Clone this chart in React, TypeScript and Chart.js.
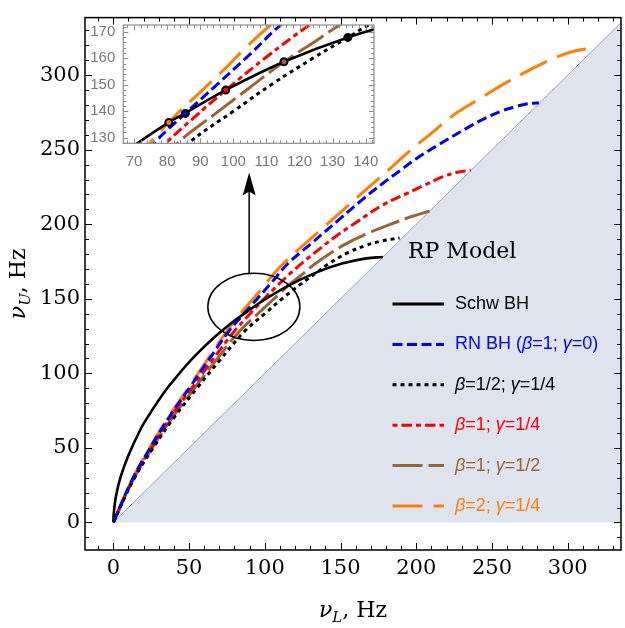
import React, { useEffect, useRef } from 'react';
import { Chart, registerables } from 'chart.js';

Chart.register(...registerables);

// Frequency pairs along each curve: lower QPO ν_L (Hz) and upper QPO ν_U (Hz)
const schwL = [0, 0.3, 1.6, 4.6, 10, 18, 23.2, 29, 35.2, 42, 48.7, 55.7, 63.3, 71.1, 80.5, 85.3, 97.7, 115.3, 134.6, 151, 167, 178];
const schwU = [0, 6, 16.7, 29.8, 45, 62.5, 71.5, 80.5, 89.5, 98, 106, 113.5, 121, 128, 135.8, 139.2, 148, 158.7, 167.9, 173.6, 177.1, 178];

const rnL = [0, 12.2, 24.3, 36.5, 50.8, 63, 76.1, 85.5, 95, 105, 115, 130, 150, 165, 178, 190, 200, 215, 234, 246, 257, 265, 272, 281];
const rnU = [0, 28, 50, 70, 91, 109, 128, 139.2, 150, 161.5, 173.3, 186.5, 204, 217, 227.5, 236.5, 244, 253.5, 264.8, 271.4, 276.2, 278.7, 280.5, 281.5];

const halfQuarterL = [0, 13, 26.3, 39.8, 56, 70.5, 86.4, 100, 112, 124, 134.6, 141.9, 155, 166, 176, 189];
const halfQuarterU = [0, 28, 50, 70, 91, 109, 127.9, 140, 150.5, 160, 167.9, 173.3, 181, 185.5, 188.5, 190.8];

const oneQuarterL = [0, 12.5, 25, 37.5, 52.5, 65.5, 79.6, 88, 97.7, 110, 123.8, 135, 147, 160, 178, 193.5, 205, 217.6, 226.4, 236];
const oneQuarterU = [0, 28, 50, 70, 91, 109, 127.9, 137.5, 148, 160.5, 173.3, 182.5, 192, 201, 213, 220.5, 226, 231.9, 234.7, 236.3];

const oneHalfL = [0, 12.8, 25.7, 38.7, 54.3, 68, 83, 95, 105, 115.3, 124, 133.1, 151.7, 169.3, 187, 198, 208.8];
const oneHalfU = [0, 28, 50, 70, 91, 109, 127.9, 139.5, 149, 158.7, 165.8, 173.3, 185.8, 194.5, 201.5, 205.5, 208.8];

const twoQuarterL = [0, 12, 24, 36, 50, 62, 74.8, 82.5, 90.9, 98.2, 103.2, 112, 130, 150, 170, 184, 196, 210, 224, 242, 256, 272.5, 290, 304, 317];
const twoQuarterU = [0, 28, 50, 70, 91, 109, 128, 138.4, 148.3, 157, 163.4, 173.3, 190, 208, 226, 238.5, 249.5, 261, 272.8, 284.3, 293, 302.2, 311, 316, 318.3];

// Crossings of the deformed curves with the Schwarzschild curve
const crossL = [80.5, 85.5, 97.7, 115.3, 134.6];
const crossU = [135.8, 139.2, 148, 158.7, 167.9];

// Edge of the allowed region ν_U = ν_L
const boundL = [0, 340];
const boundU = [0, 340];

const seriesLabels = ['Schw BH', 'RN BH (β=1; γ=0)', 'β=1/2; γ=1/4', 'β=1; γ=1/4', 'β=1; γ=1/2', 'β=2; γ=1/4'];

const mainTicks = [0, 50, 100, 150, 200, 250, 300];
const insetXTicks = [70, 80, 90, 100, 110, 120, 130, 140];
const insetYTicks = [130, 140, 150, 160, 170];

const SERIF = '"DejaVu Serif", serif';
const SANS = '"Liberation Sans", Arial, sans-serif';

const styles = [
  { color: '#000000', dash: [] as number[], width: 2.6 },
  { color: '#0000ff', dash: [10, 4.5], width: 3 },
  { color: '#000000', dash: [4, 4], width: 3 },
  { color: '#ff0000', dash: [5, 4, 10.5, 4], width: 3 },
  { color: '#996633', dash: [30, 6], width: 3 },
  { color: '#ff8000', dash: [30, 11], width: 3 },
];

const curveData = [
  [schwL, schwU],
  [rnL, rnU],
  [halfQuarterL, halfQuarterU],
  [oneQuarterL, oneQuarterU],
  [oneHalfL, oneHalfU],
  [twoQuarterL, twoQuarterU],
];

const zip = (xs: number[], ys: number[]) => xs.map((x, i) => ({ x, y: ys[i] }));

function curveDatasets() {
  return curveData.map(([L, U], i) => ({
    label: seriesLabels[i],
    data: zip(L, U),
    borderColor: styles[i].color,
    borderDash: styles[i].dash,
    borderWidth: styles[i].width,
    borderCapStyle: 'butt' as const,
    pointRadius: 0,
    fill: false,
    tension: 0.4,
  }));
}

// Inward frame ticks on all four sides plus the frame itself
function drawFrame(chart: any, o: { color: string; frameWidth: number; minor: number; major: number; majorLen: number; minorLen: number }) {
  const { ctx, chartArea, scales } = chart;
  const { left, right, top, bottom } = chartArea;
  const xs = scales.x;
  const ys = scales.y;
  ctx.save();
  ctx.strokeStyle = o.color;
  ctx.lineWidth = 1;
  ctx.beginPath();
  for (let k = Math.ceil(xs.min / o.minor); k * o.minor <= xs.max; k++) {
    const v = k * o.minor;
    const isMajor = Math.abs(v / o.major - Math.round(v / o.major)) < 1e-6;
    const len = isMajor ? o.majorLen : o.minorLen;
    const px = Math.round(xs.getPixelForValue(v)) + 0.5;
    ctx.moveTo(px, bottom);
    ctx.lineTo(px, bottom - len);
    ctx.moveTo(px, top);
    ctx.lineTo(px, top + len);
  }
  for (let k = Math.ceil(ys.min / o.minor); k * o.minor <= ys.max; k++) {
    const v = k * o.minor;
    const isMajor = Math.abs(v / o.major - Math.round(v / o.major)) < 1e-6;
    const len = isMajor ? o.majorLen : o.minorLen;
    const py = Math.round(ys.getPixelForValue(v)) + 0.5;
    ctx.moveTo(left, py);
    ctx.lineTo(left + len, py);
    ctx.moveTo(right, py);
    ctx.lineTo(right - len, py);
  }
  ctx.stroke();
  ctx.lineWidth = o.frameWidth;
  ctx.strokeRect(left, top, right - left, bottom - top);
  ctx.restore();
}

// Text in which β and γ are set in italics
function drawGreekLabel(ctx: CanvasRenderingContext2D, text: string, x: number, y: number, size: number, color: string) {
  const parts = text.split(/([βγ])/).filter((p) => p.length > 0);
  let cx = x;
  ctx.fillStyle = color;
  ctx.textBaseline = 'middle';
  ctx.textAlign = 'left';
  for (const p of parts) {
    const italic = p === 'β' || p === 'γ';
    ctx.font = `${italic ? 'italic ' : ''}${size}px ${SANS}`;
    ctx.fillText(p, cx, y);
    cx += ctx.measureText(p).width;
  }
}

function drawAxisTitle(ctx: CanvasRenderingContext2D, sub: string, cx: number, cy: number, vertical: boolean) {
  const fNu = `italic 22px ${SERIF}`;
  const fSub = `italic 15px ${SERIF}`;
  const fRest = `22px ${SERIF}`;
  ctx.save();
  ctx.font = fNu;
  const w1 = ctx.measureText('ν').width;
  ctx.font = fSub;
  const w2 = ctx.measureText(sub).width;
  ctx.font = fRest;
  const w3 = ctx.measureText(', Hz').width;
  const total = w1 + w2 + w3;
  ctx.translate(cx, cy);
  if (vertical) ctx.rotate(-Math.PI / 2);
  ctx.fillStyle = '#000';
  ctx.textBaseline = 'alphabetic';
  ctx.textAlign = 'left';
  let x = -total / 2;
  ctx.font = fNu;
  ctx.fillText('ν', x, 0);
  x += w1;
  ctx.font = fSub;
  ctx.fillText(sub, x, 5);
  x += w2;
  ctx.font = fRest;
  ctx.fillText(', Hz', x, 0);
  ctx.restore();
}

const mainDecor = {
  id: 'mainDecor',
  afterDatasetsDraw(chart: any) {
    const { ctx, scales } = chart;
    const xs = scales.x;
    const ys = scales.y;
    ctx.save();
    // zoom marker: ellipse around the crossing region and arrow to the inset
    const cx = xs.getPixelForValue(92.8);
    const cy = ys.getPixelForValue(144.6);
    const rx = xs.getPixelForValue(92.8 + 30.4) - cx;
    const ry = cy - ys.getPixelForValue(144.6 + 22.5);
    ctx.strokeStyle = '#000';
    ctx.lineWidth = 1.5;
    ctx.beginPath();
    ctx.ellipse(cx, cy, rx, ry, 0, 0, Math.PI * 2);
    ctx.stroke();
    const ax = xs.getPixelForValue(89.7);
    const aBase = ys.getPixelForValue(144.6 + 22.5);
    const aTip = ys.getPixelForValue(234.7);
    ctx.beginPath();
    ctx.moveTo(ax, aBase);
    ctx.lineTo(ax, aTip + 18);
    ctx.stroke();
    ctx.fillStyle = '#000';
    ctx.beginPath();
    ctx.moveTo(ax, aTip);
    ctx.lineTo(ax - 6.5, aTip + 23);
    ctx.lineTo(ax, aTip + 19);
    ctx.lineTo(ax + 6.5, aTip + 23);
    ctx.closePath();
    ctx.fill();

    // model name
    ctx.font = `22px ${SERIF}`;
    ctx.textAlign = 'left';
    ctx.textBaseline = 'alphabetic';
    ctx.fillText('RP Model', 408, 258);

    // legend
    seriesLabels.forEach((lab, i) => {
      const y = 304 + i * 40.4;
      ctx.strokeStyle = styles[i].color;
      ctx.lineWidth = 3;
      ctx.lineCap = 'butt';
      ctx.setLineDash(styles[i].dash);
      ctx.beginPath();
      ctx.moveTo(392.5, y);
      ctx.lineTo(444, y);
      ctx.stroke();
      ctx.setLineDash([]);
      drawGreekLabel(ctx, lab, 455, y, 18, styles[i].color);
    });
    ctx.restore();
  },
  afterDraw(chart: any) {
    drawFrame(chart, { color: '#000', frameWidth: 1.5, minor: 10, major: 50, majorLen: 7, minorLen: 4 });
    const { ctx, chartArea } = chart;
    drawAxisTitle(ctx, 'L', (chartArea.left + chartArea.right) / 2, 617, false);
    drawAxisTitle(ctx, 'U', 25, (chartArea.top + chartArea.bottom) / 2, true);
  },
};

const insetDecor = {
  id: 'insetDecor',
  beforeDatasetsDraw(chart: any) {
    const { ctx, chartArea } = chart;
    ctx.save();
    ctx.fillStyle = '#fff';
    ctx.fillRect(chartArea.left, chartArea.top, chartArea.right - chartArea.left, chartArea.bottom - chartArea.top);
    ctx.restore();
  },
  afterDraw(chart: any) {
    drawFrame(chart, { color: '#8c8c8c', frameWidth: 1.2, minor: 2, major: 10, majorLen: 5, minorLen: 3 });
  },
};

function setTicks(values: number[]) {
  return (axis: any) => {
    axis.ticks = values.map((v) => ({ value: v }));
  };
}

export default function App() {
  const mainRef = useRef<HTMLCanvasElement>(null);
  const insetRef = useRef<HTMLCanvasElement>(null);

  useEffect(() => {
    const main = new Chart(mainRef.current as HTMLCanvasElement, {
      type: 'line',
      data: {
        datasets: [
          ...curveDatasets(),
          {
            label: 'boundary',
            data: zip(boundL, boundU),
            borderColor: '#8ea3c9',
            borderWidth: 1,
            backgroundColor: '#dee3ed',
            fill: 'origin',
            pointRadius: 0,
          },
        ] as any,
      },
      options: {
        animation: false,
        responsive: false,
        devicePixelRatio: 1,
        layout: { padding: { left: 0, right: 4, top: 9, bottom: 0 } },
        plugins: { legend: { display: false }, tooltip: { enabled: false } },
        events: [],
        scales: {
          x: {
            type: 'linear',
            min: -18.7,
            max: 335.2,
            grid: { display: false, drawTicks: false },
            border: { display: false },
            afterBuildTicks: setTicks(mainTicks),
            afterFit: (s: any) => { s.height = 78; },
            ticks: { color: '#000', font: { family: SERIF, size: 21 }, padding: 6, maxRotation: 0, autoSkip: false },
          },
          y: {
            type: 'linear',
            min: -18.5,
            max: 338.6,
            grid: { display: false, drawTicks: false },
            border: { display: false },
            afterBuildTicks: setTicks(mainTicks),
            afterFit: (s: any) => { s.width = 85; },
            ticks: { color: '#000', font: { family: SERIF, size: 21 }, padding: 5, autoSkip: false },
          },
        },
      },
      plugins: [mainDecor],
    } as any);

    const inset = new Chart(insetRef.current as HTMLCanvasElement, {
      type: 'line',
      data: {
        datasets: [
          {
            label: 'crossings',
            data: zip(crossL, crossU),
            showLine: false,
            pointRadius: 3.5,
            pointBorderWidth: 2,
            pointBorderColor: '#000',
            pointBackgroundColor: ['#ff8000', '#0000ff', '#ff0000', '#996633', '#000000'],
          },
          ...curveDatasets(),
        ] as any,
      },
      options: {
        animation: false,
        responsive: false,
        devicePixelRatio: 1,
        layout: { padding: { left: 0, right: 8, top: 7, bottom: 0 } },
        plugins: { legend: { display: false }, tooltip: { enabled: false } },
        events: [],
        scales: {
          x: {
            type: 'linear',
            min: 66.75,
            max: 142.5,
            grid: { display: false, drawTicks: false },
            border: { display: false },
            afterBuildTicks: setTicks(insetXTicks),
            afterFit: (s: any) => { s.height = 31.7; },
            ticks: { color: '#777', font: { family: SANS, size: 15 }, padding: 9.5, maxRotation: 0, autoSkip: false },
          },
          y: {
            type: 'linear',
            min: 127.9,
            max: 172.6,
            grid: { display: false, drawTicks: false },
            border: { display: false },
            afterBuildTicks: setTicks(insetYTicks),
            afterFit: (s: any) => { s.width = 35.3; },
            ticks: { color: '#777', font: { family: SANS, size: 15 }, padding: 8, autoSkip: false },
          },
        },
      },
      plugins: [insetDecor],
    } as any);

    return () => {
      main.destroy();
      inset.destroy();
    };
  }, []);

  return (
    <div style={{ position: 'fixed', left: 0, top: 0, width: 625, height: 628, background: '#fff' }}>
      <canvas ref={mainRef} width={625} height={628} style={{ position: 'absolute', left: 0, top: 0 }} />
      <canvas ref={insetRef} width={300} height={167} style={{ position: 'absolute', left: 88, top: 8 }} />
    </div>
  );
}
